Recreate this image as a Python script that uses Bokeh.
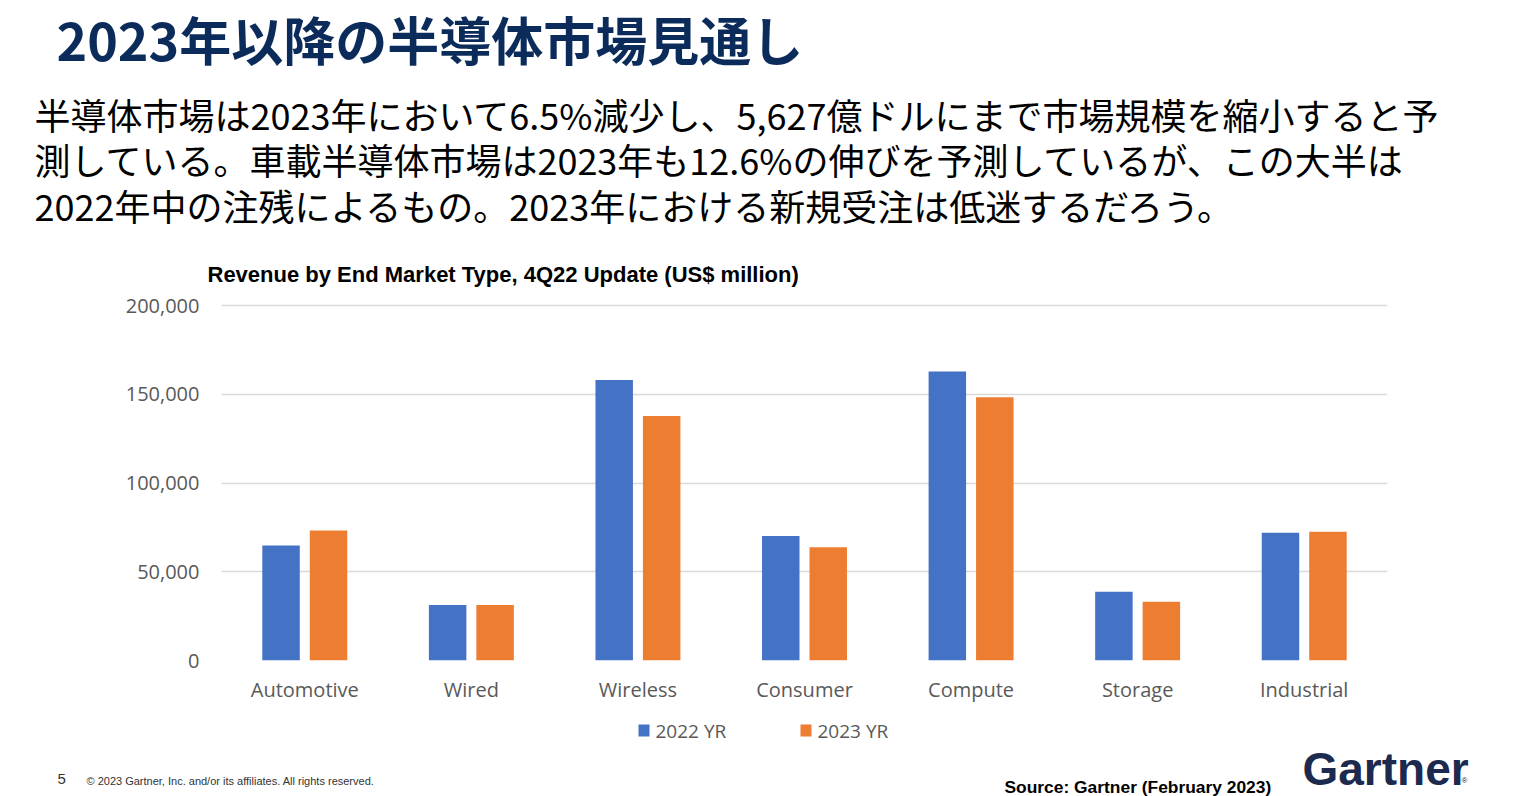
from bokeh.plotting import figure
from bokeh.models import (FactorRange, Label, FixedTicker,
                          NumeralTickFormatter, ColumnDataSource, Range1d)
from bokeh.transform import dodge
from bokeh.embed import file_html
from bokeh.resources import INLINE

# ---- data ----
categories = ["Automotive", "Wired", "Wireless", "Consumer", "Compute", "Storage", "Industrial"]
rev_2022 = [64800, 31300, 158000, 70200, 162800, 38800, 72000]
rev_2023 = [73300, 31300, 137700, 63800, 148300, 33100, 72600]
series_names = ["2022 YR", "2023 YR"]
y_ticks = [0, 50000, 100000, 150000, 200000]

title_text = "2023年以降の半導体市場見通し"
body_lines = [
    "半導体市場は2023年において6.5%減少し、5,627億ドルにまで市場規模を縮小すると予",
    "測している。車載半導体市場は2023年も12.6%の伸びを予測しているが、この大半は",
    "2022年中の注残によるもの。2023年における新規受注は低迷するだろう。",
]
chart_title = "Revenue by End Market Type, 4Q22 Update (US$ million)"
page_no = "5"
copyright_text = "© 2023 Gartner, Inc. and/or its affiliates. All rights reserved."
source_text = "Source: Gartner (February 2023)"
logo_text = "Gartner"

BLUE = "#4472c4"
ORANGE = "#ed7d31"
GRAY = "#595959"
NAVY = "#0b2b5b"
series_colors = [BLUE, ORANGE]

W, H = 1521, 796
FRAME_TOP, FRAME_BOTTOM, FRAME_LEFT, FRAME_RIGHT = 301, 660, 221, 1387
PX_PER_UNIT_Y = 355.0 / 200000
y_end = (FRAME_BOTTOM - FRAME_TOP) / PX_PER_UNIT_Y
PX_PER_CAT = (FRAME_RIGHT - FRAME_LEFT) / len(categories)

src = ColumnDataSource(dict(cat=categories, a=rev_2022, b=rev_2023))
p = figure(x_range=FactorRange(*categories), y_range=Range1d(0, y_end),
           width=W, height=H, output_backend="svg", toolbar_location=None,
           min_border_left=FRAME_LEFT, min_border_right=W - FRAME_RIGHT,
           min_border_top=FRAME_TOP, min_border_bottom=H - FRAME_BOTTOM)
p.outline_line_color = None
p.background_fill_color = "white"
p.border_fill_color = "white"
p.x_range.range_padding = 0

p.vbar(x=dodge("cat", -0.1425, range=p.x_range), top="a", width=0.225,
       source=src, color=BLUE, line_color=None)
p.vbar(x=dodge("cat", 0.1425, range=p.x_range), top="b", width=0.225,
       source=src, color=ORANGE, line_color=None)

p.yaxis.ticker = FixedTicker(ticks=y_ticks)
p.yaxis.formatter = NumeralTickFormatter(format="0,0")
for ax in (p.xaxis, p.yaxis):
    ax.axis_line_color = None
    ax.major_tick_line_color = None
    ax.minor_tick_line_color = None
    ax.major_tick_out = 0
    ax.major_tick_in = 0
    ax.major_label_text_color = GRAY
    ax.major_label_text_font = "Open Sans"
    ax.major_label_text_font_size = "20px"
p.yaxis.major_label_standoff = 22
p.xaxis.major_label_standoff = 15
p.xgrid.grid_line_color = None
p.ygrid.grid_line_color = "#d9d9d9"
p.ygrid.grid_line_width = 1.5


def lab(place, X, Y, text, size, color="black", font="Noto Sans CJK JP",
        style="normal", align="left", line_height=1.2, bg=None):
    # page pixel position -> data coordinates of the chart's own scales;
    # kept in a side panel so that it is not clipped to the plot frame
    xd = (X - FRAME_LEFT) / PX_PER_CAT
    yd = (FRAME_BOTTOM - Y) / PX_PER_UNIT_Y
    p.add_layout(Label(x=xd, y=yd, text=text, text_font=font, text_font_size=size,
                       text_color=color, text_font_style=style,
                       text_align=align, text_baseline="middle",
                       text_line_height=line_height,
                       background_fill_color=bg), place)


# header (above panel)
lab("above", 56, 38, title_text, "52px", NAVY, style="bold")
lab("above", 34, 159, "\n".join(body_lines), "36px", line_height=0.883)
lab("above", 207, 274, chart_title, "22px", "black", font="Liberation Sans", style="bold")

# legend (split over the left and right panels): colour swatch + series name
legend_x = [638, 800]
for i, (name, col) in enumerate(zip(series_names, series_colors)):
    place = "left" if i == 0 else "right"
    lab(place, legend_x[i], 730, "\u2003", "11px", col, font="Liberation Sans", bg=col)
    lab(place, legend_x[i] + 17, 730, name, "19px", GRAY, font="Open Sans")

# footer
lab("below", 86, 780, copyright_text, "11px", "#333333", font="Liberation Sans")
lab("below", 1004, 786, source_text, "17.4px", "black", font="Liberation Sans", style="bold")
lab("below", 1302, 768, logo_text, "46px", "#1b2a4e", font="Liberation Sans", style="bold")
lab("right", 57, 778, page_no, "15px", "#333333", font="Liberation Sans")
lab("right", 1461, 780, "®", "8px", "#1b2a4e", font="Liberation Sans")

open("out.html", "w").write(file_html(p, INLINE))
